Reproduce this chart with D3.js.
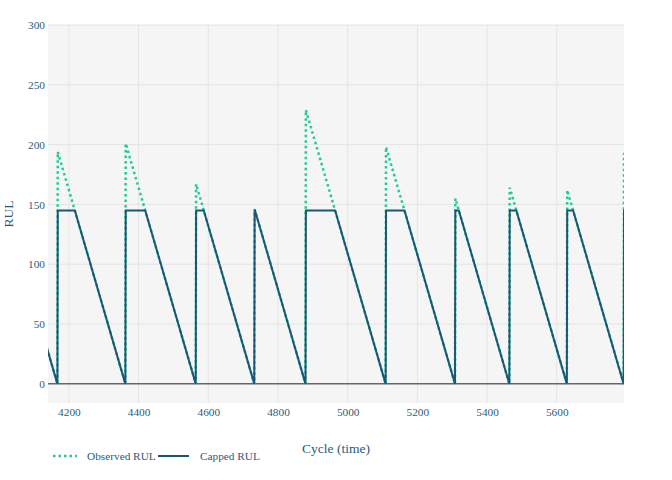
<html>
<head>
<script src="https://d3js.org/d3.v7.min.js"></script>
<style>
  body { margin: 0; background: #fff; }
  svg, svg text { font-family: "Liberation Serif", "Times New Roman", Times, serif !important; }
</style>
</head>
<body>
<div id="chart"></div>
<script>
// one engine per entry: first cycle index and its RUL at that cycle
var engineStart = [3934, 4168, 4363, 4565, 4733, 4880, 5110, 5309, 5465, 5630, 5793];
var engineRul   = [233, 194, 201, 167, 146, 229, 198, 155, 164, 162, 193];
var rulCap = 145;
var xTicks = [4200, 4400, 4600, 4800, 5000, 5200, 5400, 5600];
var yTicks = [0, 50, 100, 150, 200, 250, 300];

var width = 672, height = 480;
var margin = {left: 48, right: 48, top: 25, bottom: 77};
var textColor = "#2b5c7b";

var svg = d3.select("#chart").append("svg")
    .attr("width", width).attr("height", height);

var x = d3.scaleLinear().domain([4140, 5793]).range([margin.left, width - margin.right]);
var y = d3.scaleLinear().domain([-16, 300]).range([height - margin.bottom, margin.top]);

svg.append("rect")
    .attr("x", margin.left).attr("y", margin.top)
    .attr("width", width - margin.left - margin.right)
    .attr("height", height - margin.top - margin.bottom)
    .attr("fill", "#f5f5f5");

svg.append("clipPath").attr("id", "clip").append("rect")
    .attr("x", margin.left).attr("y", margin.top)
    .attr("width", width - margin.left - margin.right)
    .attr("height", height - margin.top - margin.bottom);

// grid
svg.append("g").selectAll("line").data(xTicks).enter().append("line")
    .attr("x1", d => x(d)).attr("x2", d => x(d))
    .attr("y1", margin.top).attr("y2", height - margin.bottom)
    .attr("stroke", "#e4e4e4").attr("stroke-width", 1);
svg.append("g").selectAll("line").data(yTicks.filter(d => d != 0)).enter().append("line")
    .attr("x1", margin.left).attr("x2", width - margin.right)
    .attr("y1", d => y(d)).attr("y2", d => y(d))
    .attr("stroke", "#e4e4e4").attr("stroke-width", 1);

// axes (labels only)
var xAxis = svg.append("g")
    .attr("transform", "translate(0," + (height - margin.bottom) + ")")
    .call(d3.axisBottom(x).tickValues(xTicks).tickFormat(d3.format("d")).tickSize(0).tickPadding(5));
var yAxis = svg.append("g")
    .attr("transform", "translate(" + margin.left + ",0)")
    .call(d3.axisLeft(y).tickValues(yTicks).tickFormat(d3.format("d")).tickSize(0).tickPadding(3));
[xAxis, yAxis].forEach(function(a) {
    a.attr("font-size", 11.3);
    a.select(".domain").remove();
    a.selectAll("text").attr("fill", textColor);
});

// build vertices from the engine arrays
var observed = [], capped = [];
engineStart.forEach(function(s, i) {
    var r = engineRul[i];
    observed.push([s, r], [s + r, 0]);
    capped.push([s, Math.min(r, rulCap)]);
    if (r > rulCap) capped.push([s + r - rulCap, rulCap]);
    capped.push([s + r, 0]);
});

var line = d3.line().x(d => x(d[0])).y(d => y(d[1]));
var plot = svg.append("g").attr("clip-path", "url(#clip)");

plot.append("line")
    .attr("x1", margin.left).attr("x2", width - margin.right)
    .attr("y1", y(0)).attr("y2", y(0))
    .attr("stroke", "#666").attr("stroke-width", 1.5);

plot.append("path").datum(observed)
    .attr("d", line).attr("fill", "none")
    .attr("stroke", "#22cc8c").attr("stroke-width", 2.5)
    .attr("stroke-dasharray", "2.5,3");

plot.append("path").datum(capped)
    .attr("d", line).attr("fill", "none")
    .attr("stroke", "#1a5777").attr("stroke-width", 2);

// titles
svg.append("text").attr("x", 336).attr("y", 453)
    .attr("text-anchor", "middle").attr("font-size", 13.5).attr("fill", textColor)
    .text("Cycle (time)");
svg.append("text").attr("transform", "translate(13,214) rotate(-90)")
    .attr("text-anchor", "middle").attr("font-size", 13.5).attr("fill", textColor)
    .text("RUL");

// legend
var leg = svg.append("g").attr("font-size", 11.3).attr("fill", textColor);
leg.append("line").attr("x1", 53).attr("x2", 77).attr("y1", 456).attr("y2", 456)
    .attr("stroke", "#22cc8c").attr("stroke-width", 2.5).attr("stroke-dasharray", "2.5,3");
leg.append("text").attr("x", 87).attr("y", 460).text("Observed RUL");
leg.append("line").attr("x1", 158).attr("x2", 189).attr("y1", 456).attr("y2", 456)
    .attr("stroke", "#1a5777").attr("stroke-width", 2);
leg.append("text").attr("x", 200).attr("y", 460).text("Capped RUL");
</script>
</body>
</html>
